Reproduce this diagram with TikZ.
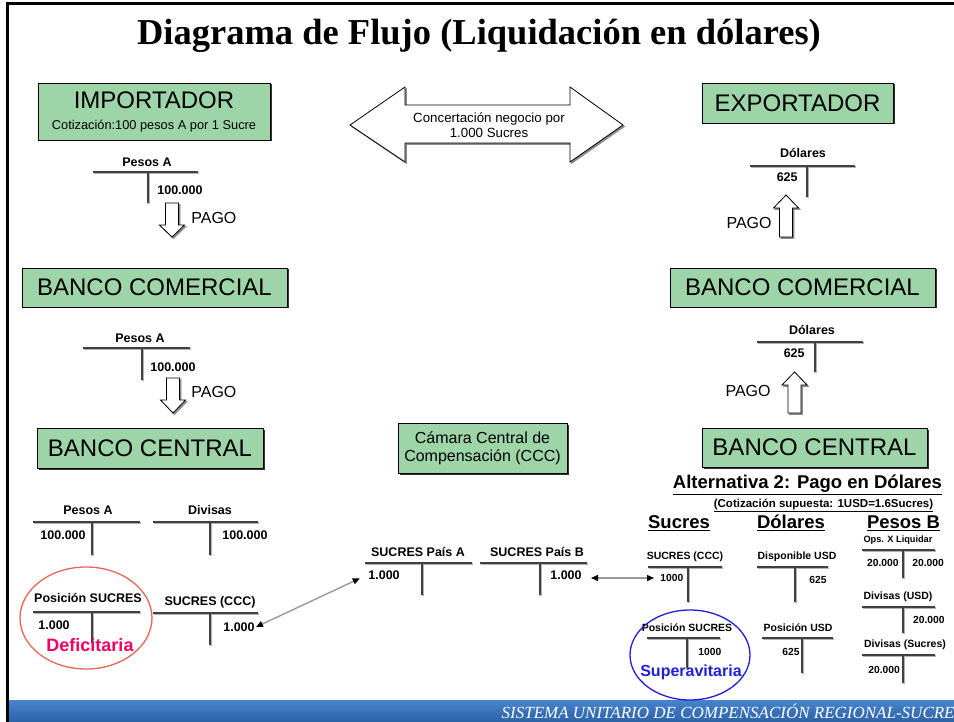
\documentclass[tikz,border=0pt]{standalone}
\usepackage{fontspec}
\setmainfont{Liberation Serif}
\setsansfont{Liberation Sans}
\usetikzlibrary{arrows.meta,positioning,shadows,shapes.geometric,calc}
\definecolor{verdecaja}{RGB}{158,213,168}
\definecolor{franjaalta}{RGB}{72,132,204}
\definecolor{franjabaja}{RGB}{44,98,168}
\definecolor{rojoelipse}{RGB}{226,104,84}
\definecolor{rosadef}{RGB}{240,0,100}
\definecolor{azulsup}{RGB}{30,30,220}
\tikzset{every picture/.style={line width=0.75pt}}
\tikzset{
  caja/.style={draw=black, fill=verdecaja, line width=0.8pt, inner sep=0pt, align=center,
    font=\sffamily\fontsize{24}{26}\selectfont,
    drop shadow={shadow xshift=1.5pt, shadow yshift=-1.5pt, fill=black!80, opacity=1}},
  titcta/.style={font=\sffamily\bfseries\fontsize{12.5}{14}\selectfont, inner sep=1pt},
  monto/.style={font=\sffamily\bfseries\fontsize{12.5}{14}\selectfont, inner sep=1pt},
  titctaB/.style={font=\sffamily\bfseries\fontsize{10.5}{12}\selectfont, inner sep=1pt},
  montoB/.style={font=\sffamily\bfseries\fontsize{10.3}{12}\selectfont, inner sep=1pt},
  encab/.style={font=\sffamily\bfseries\fontsize{18.5}{20}\selectfont, inner sep=1pt},
  tlinea/.style={draw=black!75, line width=2pt},
  tsombra/.style={draw=black!30, line width=2pt, shift={(1.2,1.2)}},
  bloque/.style={draw=black, fill=white, line width=0.8pt},
  bsombra/.style={draw=black!45, fill=black!45, line width=0.8pt, shift={(1.5,1.5)}},
  pago/.style={font=\sffamily\fontsize{16}{18}\selectfont, inner sep=1pt},
  conector/.style={draw=black!40, line width=1.4pt,
    {Triangle[color=black,fill=black,length=7pt,width=6pt]}-{Triangle[color=black,fill=black,length=7pt,width=6pt]}},
}
% cuenta T: izquierda, derecha, eje, altura, pie
\newcommand{\cuentaT}[5]{%
  \draw[tsombra] (#1,#4) -- (#2,#4) (#3,#4) -- (#3,#5);
  \draw[tlinea] (#1,#4) -- (#2,#4) (#3,#4) -- (#3,#5);}
% flecha de pago: eje, cola, base de punta, punta
\newcommand{\flechaPago}[4]{%
  \draw[bsombra] (#1-6.5,#2) -- (#1+6.5,#2) -- (#1+6.5,#3) -- (#1+12.5,#3) -- (#1,#4) -- (#1-12.5,#3) -- (#1-6.5,#3) -- cycle;
  \draw[bloque] (#1-6.5,#2) -- (#1+6.5,#2) -- (#1+6.5,#3) -- (#1+12.5,#3) -- (#1,#4) -- (#1-12.5,#3) -- (#1-6.5,#3) -- cycle;}

\begin{document}
\begin{tikzpicture}[x=1pt, y=-1pt]
    \useasboundingbox (0,0) rectangle (954,722);
    % marco y franja
    \shade[top color=franjaalta, bottom color=franjabaja] (8.5,700) rectangle (954,722);
    \draw[line width=3pt] (954,4) -- (7,4) -- (7,722);
    \node[anchor=east, text=white, font=\rmfamily\itshape\fontsize{17}{18}\selectfont, inner sep=0pt] (pie) at (955,711.5) {SISTEMA UNITARIO DE COMPENSACIÓN REGIONAL-SUCRE};
    \node[font=\rmfamily\bfseries\fontsize{36.5}{40}\selectfont, anchor=base] (titulo) at (479,45) {Diagrama de Flujo (Liquidación en dólares)};

    % cajas
    \node[caja, minimum width=232pt, minimum height=57pt] (importador) at (154,111.5)
        {IMPORTADOR\\[-5pt]{\fontsize{12.8}{14}\selectfont Cotización:100 pesos A por 1 Sucre}};
    \node[caja, minimum width=191pt, minimum height=40pt] (exportador) at (797.5,103) {EXPORTADOR};
    \node[caja, minimum width=265pt, minimum height=39pt] (bcomA) at (154.5,287.5) {BANCO COMERCIAL};
    \node[caja, minimum width=226pt, minimum height=40pt] (bcenA) at (150,448) {BANCO CENTRAL};
    \node[caja, minimum width=265pt, minimum height=39pt] (bcomB) at (802.5,287.5) {BANCO COMERCIAL};
    \node[caja, minimum width=225pt, minimum height=39pt] (bcenB) at (814.5,447.5) {BANCO CENTRAL};
    \node[caja, font=\sffamily\fontsize{16}{18}\selectfont, minimum width=169pt, minimum height=50pt] (camara) at (482.5,448)
        {Cámara Central de\\Compensación (CCC)};

    % flecha doble
    \draw[bsombra] (350,125) -- (405,87) -- (405,105) -- (570,105) -- (570,87) -- (623,125)
        -- (570,162) -- (570,143) -- (405,143) -- (405,162) -- cycle;
    \draw[bloque] (350,125) -- (405,87) -- (405,105) -- (570,105) -- (570,87) -- (623,125)
        -- (570,162) -- (570,143) -- (405,143) -- (405,162) -- cycle;
    \node[font=\sffamily\fontsize{13.3}{15}\selectfont, align=center] (concert) at (489,125)
        {Concertación negocio por\\1.000 Sucres};

    % pagos
    \flechaPago{172}{203}{225}{237}
    \flechaPago{173}{378}{400}{413}
    \flechaPago{786}{237}{208}{195}
    \flechaPago{794.5}{413}{385}{372}
    \node[pago, anchor=west] (pagoA1) at (190,218) {PAGO};
    \node[pago, anchor=west] (pagoA2) at (190,392) {PAGO};
    \node[pago, anchor=east] (pagoB1) at (773,223) {PAGO};
    \node[pago, anchor=east] (pagoB2) at (772,391) {PAGO};

    % cuentas lado A
    \cuentaT{93}{198}{148}{172}{203}
    \node[titcta] (tImp) at (147,162) {Pesos A};
    \node[monto, anchor=west] (mImp) at (156,190) {100.000};
    \cuentaT{83}{190}{142}{348}{380}
    \node[titcta] (tBcomA) at (140,338) {Pesos A};
    \node[monto, anchor=west] (mBcomA) at (149,367) {100.000};
    \cuentaT{33}{140}{92}{522}{555}
    \node[titcta] (tPesos) at (88,510) {Pesos A};
    \node[monto, anchor=east] (mPesos) at (87,535) {100.000};
    \cuentaT{153}{258}{210}{522}{555}
    \node[titcta] (tDiv) at (210,510) {Divisas};
    \node[monto, anchor=west] (mDiv) at (221,535) {100.000};
    \cuentaT{33}{140}{92}{612}{643}
    \node[titcta] (tPosA) at (88,598) {Posición SUCRES};
    \node[monto, anchor=west] (mPosA) at (37,625) {1.000};
    \cuentaT{153}{258}{210}{613}{645}
    \node[titcta] (tSccA) at (210,602) {SUCRES (CCC)};
    \node[monto, anchor=east] (mSccA) at (256,627) {1.000};
    \node[ellipse, draw=rojoelipse, line width=1.3pt, minimum width=132pt, minimum height=102pt] (elDef) at (86,618) {};
    \node[font=\sffamily\bfseries\fontsize{18}{20}\selectfont, text=rosadef, inner sep=0pt] (deficit) at (90,645) {Deficitaria};

    % cuentas de la camara
    \cuentaT{365}{472}{422}{563}{595}
    \node[titcta] (tPaisA) at (418,552) {SUCRES País A};
    \node[monto, anchor=west] (mPaisA) at (367,575) {1.000};
    \cuentaT{480}{587}{540}{563}{595}
    \node[titcta] (tPaisB) at (537,552) {SUCRES País B};
    \node[monto, anchor=east] (mPaisB) at (583,575) {1.000};

    % cuentas lado B
    \cuentaT{750}{855}{807}{166}{197}
    \node[titcta] (tExp) at (803,153) {Dólares};
    \node[monto, anchor=east] (mExp) at (799,177) {625};
    \cuentaT{757}{863}{815}{342}{372}
    \node[titcta] (tBcomB) at (812,330) {Dólares};
    \node[monto, anchor=east] (mBcomB) at (806,353) {625};

    \node[encab] (alt) at (807.5,485) {\underline{Alternativa 2: Pago en Dólares}};
    \node[font=\sffamily\bfseries\fontsize{11.5}{13}\selectfont, inner sep=1pt] (cotiz) at (823.5,505)
        {\underline{(Cotización supuesta: 1USD=1.6Sucres)}};
    \node[encab] (hSuc) at (679,523) {\underline{Sucres}};
    \node[encab] (hDol) at (791,523) {\underline{Dólares}};
    \node[encab] (hPes) at (903.5,523) {\underline{Pesos B}};

    \cuentaT{648}{722}{688}{567}{602}
    \node[titctaB] (tSccB) at (685,557) {SUCRES (CCC)};
    \node[montoB, anchor=west] (mSccB) at (659,578) {1000};
    \cuentaT{757}{828}{795}{567}{602}
    \node[titctaB] (tDisp) at (797,557) {Disponible USD};
    \node[montoB, anchor=east] (mDisp) at (828,580) {625};
    \cuentaT{862}{935}{903}{550}{578}
    \node[titctaB, font=\sffamily\bfseries\fontsize{9.2}{11}\selectfont] (tOps) at (898,540) {Ops. X Liquidar};
    \node[montoB, anchor=east] (mOps1) at (900,563) {20.000};
    \node[montoB, anchor=west] (mOps2) at (911,563) {20.000};
    \cuentaT{862}{935}{903}{607}{633}
    \node[titctaB] (tDivU) at (898,597) {Divisas (USD)};
    \node[montoB, anchor=east] (mDivU) at (946,620) {20.000};
    \cuentaT{862}{935}{903}{655}{683}
    \node[titctaB] (tDivS) at (905,645) {Divisas (Sucres)};
    \node[montoB, anchor=west] (mDivS) at (867,670) {20.000};
    \cuentaT{647}{720}{687}{638}{668}
    \node[titctaB] (tPosB) at (687,628) {Posición SUCRES};
    \node[montoB, anchor=west] (mPosB) at (697,652) {1000};
    \cuentaT{762}{833}{802}{638}{673}
    \node[titctaB] (tPosU) at (798,628) {Posición USD};
    \node[montoB, anchor=east] (mPosU) at (801,652) {625};
    \node[ellipse, draw=azulsup, line width=1.3pt, minimum width=120pt, minimum height=90pt] (elSup) at (690,655) {};
    \node[font=\sffamily\bfseries\fontsize{16}{18}\selectfont, text=azulsup, inner sep=0pt] (superav) at (691,672) {Superavitaria};

    % conectores
    \draw[conector, shorten <=8pt] (mPaisA.west) -- (mSccA.east);
    \draw[conector, shorten <=8pt, shorten >=5pt] (mPaisB.east |- mSccB.west) -- (mSccB.west);
\end{tikzpicture}
\end{document}
